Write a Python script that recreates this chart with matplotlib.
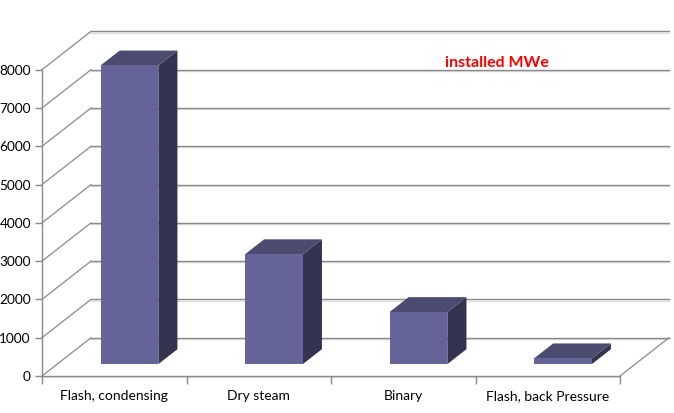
import matplotlib
matplotlib.use("Agg")
import matplotlib.pyplot as plt
from matplotlib.patches import Polygon
from matplotlib.transforms import offset_copy

# Installed geothermal capacity by plant type
categories = ["Flash, condensing", "Dry steam", "Binary", "Flash, back Pressure"]
installed_mwe = [7800, 2870, 1360, 150]
y_ticks = [0, 1000, 2000, 3000, 4000, 5000, 6000, 7000, 8000]
title_text = "installed MWe"

plt.rcParams["font.family"] = ["Lato", "DejaVu Sans"]

W, H = 674, 413
fig = plt.figure(figsize=(W / 100, H / 100), dpi=100)
ax = fig.add_axes([42 / W, (H - 376) / H, 578 / W, (376 - 69.7) / H])
n = len(categories)
ax.set_xlim(0, n)
ax.set_ylim(0, y_ticks[-1])

# oblique depth of the floor, in category units (x) and value units (y)
DX, DY = 0.339, 1000.0
GRID = "#8a8a8a"
SHADOW = "#dedede"

shadow_tr = offset_copy(ax.transData, fig=fig, x=0, y=-1.2, units="dots")

# back wall gridlines and side wall diagonals
for v in y_ticks:
    ax.plot([DX, n + DX], [v + DY, v + DY], color=SHADOW, lw=1.0,
            transform=shadow_tr, clip_on=False, zorder=1)
    ax.plot([DX, n + DX], [v + DY, v + DY], color=GRID, lw=1.0,
            clip_on=False, zorder=2)
    ax.plot([0, DX], [v, v + DY], color=GRID, lw=0.9,
            clip_on=False, zorder=2)

# floor right edge and front edge shadow
ax.plot([n, n + DX], [0, DY], color=GRID, lw=0.9, clip_on=False, zorder=2)
ax.plot([0, n], [0, 0], color=SHADOW, lw=1.0, transform=shadow_tr,
        clip_on=False, zorder=1)

# 3D bars
FRONT, TOP, SIDE = "#646498", "#4b4b70", "#343450"
f_front, f_back = 0.31, 0.70
half = 0.2
for i, v in enumerate(installed_mwe):
    c = i + 0.5
    x0 = c - half + f_front * DX
    x1 = c + half + f_front * DX
    y0 = f_front * DY
    y1 = y0 + v
    ddx = (f_back - f_front) * DX
    ddy = (f_back - f_front) * DY
    front = Polygon([(x0, y0), (x1, y0), (x1, y1), (x0, y1)], closed=True,
                    facecolor=FRONT, edgecolor="none", zorder=5, clip_on=False)
    top = Polygon([(x0, y1), (x1, y1), (x1 + ddx, y1 + ddy), (x0 + ddx, y1 + ddy)],
                  closed=True, facecolor=TOP, edgecolor="none", zorder=5, clip_on=False)
    side = Polygon([(x1, y0), (x1 + ddx, y0 + ddy), (x1 + ddx, y1 + ddy), (x1, y1)],
                   closed=True, facecolor=SIDE, edgecolor="none", zorder=5, clip_on=False)
    for p in (side, top, front):
        ax.add_patch(p)

# axes
for s in ("top", "right"):
    ax.spines[s].set_visible(False)
for s in ("left", "bottom"):
    ax.spines[s].set_color(GRID)
    ax.spines[s].set_linewidth(1.0)
    ax.spines[s].set_zorder(3)

ax.set_yticks(y_ticks)
ax.set_yticklabels([str(t) for t in y_ticks])
ax.tick_params(axis="y", length=5, width=1, color=GRID, pad=3,
               labelsize=9.8, labelcolor="black")
ax.set_xticks(range(n + 1))
ax.set_xticklabels([])
ax.tick_params(axis="x", which="major", length=6, width=1, color=GRID)
ax.set_xticks([i + 0.5 for i in range(n)], minor=True)
ax.set_xticklabels(categories, minor=True)
ax.tick_params(axis="x", which="minor", length=0, pad=10, labelsize=10,
               labelcolor="black")
ax.patch.set_visible(False)

fig.text(497 / W, 1 - 63 / H, title_text, color="#ff0000", fontsize=11.5,
         fontweight="bold", ha="center", va="center")

fig.savefig("out.png", dpi=100, facecolor="white")
